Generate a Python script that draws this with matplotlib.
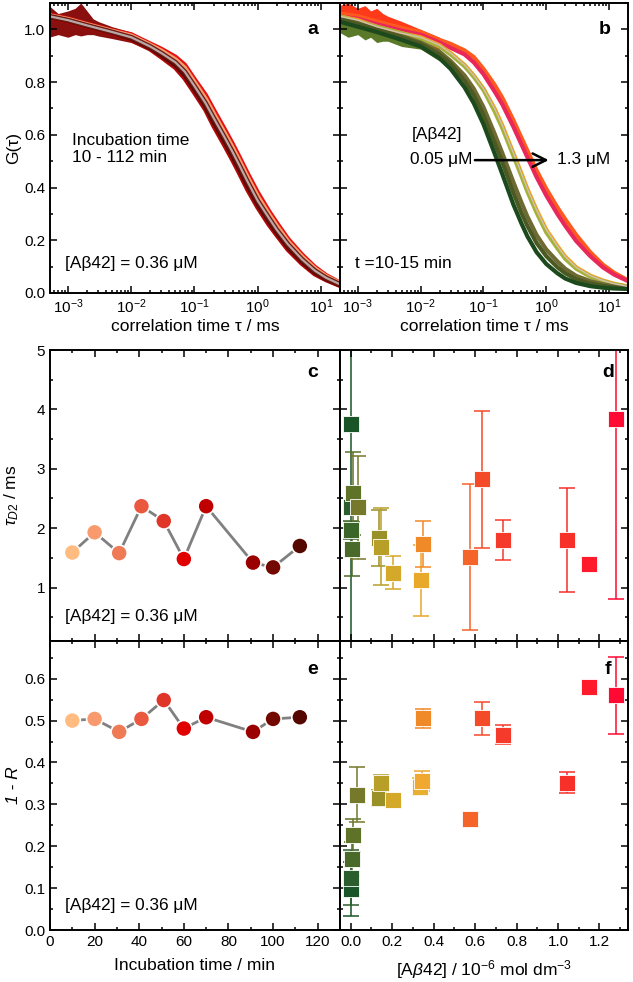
import matplotlib
matplotlib.use('Agg')
import matplotlib.pyplot as plt
from matplotlib.ticker import MultipleLocator, NullFormatter, LogLocator

plt.rcParams['font.family'] = ['Liberation Sans', 'DejaVu Sans']
plt.rcParams['mathtext.fontset'] = 'custom'
plt.rcParams['mathtext.rm'] = 'Liberation Sans'
plt.rcParams['mathtext.it'] = 'Liberation Sans:italic'
plt.rcParams['mathtext.bf'] = 'Liberation Sans:bold'

# ---------------- data ----------------
# correlation curves, G(tau) sampled on a common tau grid (ms)
tau = [5e-4, 1e-3, 2e-3, 5e-3, 1e-2, 2e-2, 3e-2, 5e-2, 0.07, 0.1, 0.15, 0.2,
       0.3, 0.4, 0.5, 0.7, 1, 1.5, 2, 3, 5, 8, 12, 20]

# panel a : 0.36 uM, incubation 10-112 min (band of curves + fit)
a_fast = [1.045, 1.03, 1.01, 0.985, 0.96, 0.925, 0.895, 0.855, 0.815, 0.76, 0.695, 0.635,
          0.56, 0.505, 0.46, 0.39, 0.325, 0.26, 0.22, 0.165, 0.112, 0.072, 0.05, 0.028]
a_midfast = [1.048, 1.033, 1.013, 0.988, 0.965, 0.93, 0.903, 0.865, 0.828, 0.773, 0.708, 0.65,
             0.575, 0.52, 0.475, 0.405, 0.338, 0.273, 0.23, 0.175, 0.12, 0.078, 0.054, 0.03]
a_mid = [1.05, 1.035, 1.015, 0.99, 0.97, 0.935, 0.91, 0.875, 0.84, 0.785, 0.72, 0.665,
         0.59, 0.535, 0.49, 0.42, 0.35, 0.285, 0.24, 0.185, 0.128, 0.085, 0.058, 0.033]
a_midslow = [1.052, 1.038, 1.018, 0.993, 0.975, 0.94, 0.918, 0.885, 0.853, 0.798, 0.735, 0.68,
             0.605, 0.55, 0.505, 0.435, 0.365, 0.298, 0.253, 0.195, 0.137, 0.092, 0.063, 0.036]
a_slow = [1.055, 1.04, 1.02, 0.995, 0.98, 0.945, 0.925, 0.895, 0.865, 0.81, 0.75, 0.695,
          0.62, 0.565, 0.52, 0.45, 0.38, 0.31, 0.265, 0.205, 0.145, 0.098, 0.067, 0.038]
a_curves = [a_slow, a_fast, a_midslow, a_midfast, a_mid]
a_colors = ['#e81010', '#b00808', '#f2a070', '#5a0a05', '#6e1a12']

# panel b : 0.05 -> 1.3 uM at t = 10-15 min
b_dkgreen = [1.03, 1.01, 0.99, 0.96, 0.935, 0.89, 0.85, 0.78, 0.72, 0.64, 0.53, 0.45,
             0.335, 0.265, 0.215, 0.155, 0.11, 0.075, 0.055, 0.038, 0.026, 0.02, 0.017, 0.015]
b_dkolive = [1.04, 1.02, 1.0, 0.97, 0.945, 0.905, 0.87, 0.805, 0.75, 0.675, 0.57, 0.495,
             0.38, 0.305, 0.255, 0.19, 0.14, 0.098, 0.075, 0.052, 0.036, 0.027, 0.022, 0.018]
b_olive = [1.04, 1.025, 1.0, 0.975, 0.95, 0.915, 0.88, 0.825, 0.775, 0.705, 0.605, 0.53,
           0.42, 0.345, 0.29, 0.22, 0.165, 0.12, 0.092, 0.065, 0.045, 0.033, 0.026, 0.02]
b_ygreen = [1.05, 1.03, 1.01, 0.985, 0.965, 0.935, 0.905, 0.86, 0.82, 0.77, 0.69, 0.625,
            0.52, 0.445, 0.385, 0.305, 0.23, 0.17, 0.13, 0.092, 0.062, 0.044, 0.033, 0.024]
b_orange = [1.05, 1.035, 1.01, 0.985, 0.97, 0.94, 0.91, 0.865, 0.825, 0.775, 0.70, 0.635,
            0.53, 0.455, 0.395, 0.315, 0.24, 0.178, 0.138, 0.097, 0.066, 0.047, 0.035, 0.025]
b_crimson = [1.05, 1.04, 1.02, 0.995, 0.98, 0.95, 0.93, 0.905, 0.875, 0.83, 0.765, 0.715,
             0.63, 0.565, 0.515, 0.44, 0.37, 0.30, 0.255, 0.197, 0.14, 0.097, 0.07, 0.045]
b_ored = [1.06, 1.05, 1.03, 1.005, 0.99, 0.96, 0.945, 0.92, 0.895, 0.85, 0.79, 0.74,
          0.655, 0.59, 0.54, 0.465, 0.395, 0.325, 0.28, 0.22, 0.155, 0.107, 0.077, 0.048]
b_curves = [b_ored, b_crimson, b_orange, b_ygreen, b_olive, b_dkolive, b_dkgreen]
b_colors = ['#ff5a1e', '#e8285a', '#f5a020', '#a5b23a', '#6e6a32', '#4b5a22', '#1d4a1d']

# noisy start of the measured curves
tau_noise = [5e-4, 7e-4, 1e-3, 1.3e-3, 1.6e-3, 2e-3, 2.5e-3, 3e-3, 5e-3, 1e-2, 2e-2]
a_noise_hi = [1.09, 1.06, 1.07, 1.08, 1.10, 1.07, 1.04, 1.03, 1.01, 0.99, 0.95]
a_noise_lo = [0.97, 0.98, 0.97, 0.98, 0.975, 0.98, 0.98, 0.975, 0.965, 0.95, 0.92]
b_noise_hi = [1.09, 1.10, 1.08, 1.09, 1.07, 1.08, 1.06, 1.05, 1.03, 1.0, 0.97]
b_noise_mid = [1.04, 1.03, 1.03, 1.02, 1.02, 1.01, 1.0, 1.0, 0.985, 0.96, 0.92]
b_noise_lo = [0.99, 0.97, 0.98, 0.96, 0.97, 0.95, 0.955, 0.955, 0.935, 0.925, 0.88]

# panels c, e : incubation time series at 0.36 uM
t_inc = [10, 20, 31, 41, 51, 60, 70, 91, 100, 112]
tauD2 = [1.59, 1.93, 1.58, 2.37, 2.12, 1.48, 2.37, 1.42, 1.34, 1.70]
one_minus_R = [0.500, 0.504, 0.473, 0.504, 0.549, 0.481, 0.508, 0.473, 0.504, 0.508]
t_colors = ['#ffbb80', '#f89a6e', '#ef7a56', '#ea5840', '#e0362a', '#e00000', '#c00000', '#9a0000', '#720800', '#550800']

# panel d : tau_D2 vs concentration
d_x = [0.0, 0.0, 0.0, 0.008, 0.013, 0.037, 0.138, 0.145, 0.206, 0.338, 0.351, 0.576, 0.635, 0.733, 1.042, 1.152, 1.28]
d_y = [3.75, 2.35, 1.97, 1.65, 2.585, 2.35, 1.83, 1.69, 1.25, 1.12, 1.73, 1.52, 2.82, 1.80, 1.80, 1.39, 3.84]
d_err = [5.0, 0.0, 0.15, 0.45, 0.70, 0.87, 0.47, 0.65, 0.28, 0.60, 0.39, 1.23, 1.15, 0.33, 0.88, 0.0, 3.04]
d_col = ['#1a5528', '#2b5e2c', '#3a662a', '#4a6a2a', '#5e7228', '#76782a', '#9a9028', '#b8a028',
         '#d4a828', '#e8a82a', '#f08a28', '#f56428', '#f54a28', '#f53a2c', '#f8302a', '#ff1a2c', '#ff0a32']

# panel f : 1 - R vs concentration
f_x = [0.0, 0.0, 0.005, 0.013, 0.029, 0.138, 0.145, 0.206, 0.335, 0.344, 0.351, 0.576, 0.635, 0.733, 1.042, 1.152, 1.28]
f_y = [0.098, 0.125, 0.170, 0.226, 0.323, 0.315, 0.351, 0.310, 0.342, 0.356, 0.505, 0.265, 0.505, 0.466, 0.352, 0.580, 0.560]
f_err = [0.065, 0.066, 0.04, 0.04, 0.065, 0.02, 0.02, 0.005, 0.02, 0.023, 0.022, 0.0, 0.04, 0.023, 0.025, 0.0, 0.092]
f_col = ['#1a5528', '#2b5e2c', '#4a6a2a', '#5e7228', '#76782a', '#9a9028', '#b8a028', '#d4a828',
         '#e8b030', '#f0a830', '#f08a28', '#f56428', '#f54a28', '#f53a2c', '#f8302a', '#ff1a2c', '#ff0a32']

# ---------------- figure ----------------
W, H = 633, 982
fig = plt.figure(figsize=(W / 100, H / 100), dpi=100)


def box(l, t, r, b):
    return [l / W, (H - b) / H, (r - l) / W, (b - t) / H]


ax_a = fig.add_axes(box(50, 3, 340, 293))
ax_b = fig.add_axes(box(340, 3, 628, 293))
ax_c = fig.add_axes(box(50, 350, 340, 641))
ax_d = fig.add_axes(box(340, 350, 628, 641))
ax_e = fig.add_axes(box(50, 641, 340, 930))
ax_f = fig.add_axes(box(340, 641, 628, 930))


def style(ax):
    ax.tick_params(which='both', direction='in', top=True, right=True, width=1.1, labelsize=11)
    ax.tick_params(which='major', length=5)
    ax.tick_params(which='minor', length=2.5)
    for s in ax.spines.values():
        s.set_linewidth(1.4)


txt = dict(fontsize=12.4)
lbl = dict(fontsize=14, fontweight='bold', ha='center', va='center')
axfs = 12.5

# ---- a ----
ax = ax_a
ax.fill_between(tau_noise, a_noise_lo, a_noise_hi, color='#8a1010', lw=0)
for g, c in zip(a_curves, a_colors):
    ax.plot(tau, g, color=c, lw=3.5)
ax.plot(tau, a_mid, color='#b8a8a8', lw=1.6)
ax.text(0.076, 0.497, 'Incubation time\n10 - 112 min', transform=ax.transAxes, va='center', linespacing=1.2, **txt)
ax.text(0.052, 0.103, '[A\u03b242] = 0.36 \u03bcM', transform=ax.transAxes, va='center', **txt)
ax.text(0.905, 0.907, 'a', transform=ax.transAxes, **lbl)
ax.set_ylabel('G(\u03c4)', fontsize=axfs)
ax.yaxis.set_label_coords(-0.10, 0.5)

# ---- b ----
ax = ax_b
ax.fill_between(tau_noise, b_noise_lo, b_noise_mid, color='#5a7a2a', lw=0)
ax.fill_between(tau_noise, b_noise_mid, b_noise_hi, color='#ff3a1a', lw=0)
for g, c in zip(b_curves, b_colors):
    ax.plot(tau, g, color=c, lw=3)
ax.plot(tau, b_orange, color='#d8c0b0', lw=1.0)
ax.annotate('', xy=(1.21, 0.504), xytext=(0.066, 0.504),
            arrowprops=dict(arrowstyle='->', lw=1.8, color='black', mutation_scale=24))
ax.text(0.337, 0.545, '[A\u03b242]', transform=ax.transAxes, ha='center', va='center', **txt)
ax.text(0.458, 0.459, '0.05 \u03bcM', transform=ax.transAxes, ha='right', va='center', **txt)
ax.text(0.753, 0.459, '1.3 \u03bcM', transform=ax.transAxes, ha='left', va='center', **txt)
ax.text(0.052, 0.103, 't =10-15 min', transform=ax.transAxes, va='center', **txt)
ax.text(0.92, 0.907, 'b', transform=ax.transAxes, **lbl)
ax.tick_params(labelleft=False)

for ax in (ax_a, ax_b):
    style(ax)
    ax.set_xscale('log')
    ax.set_xlim(5.2e-4, 20)
    ax.set_ylim(0, 1.1)
    ax.xaxis.set_major_locator(LogLocator(base=10, numticks=10))
    ax.xaxis.set_minor_locator(LogLocator(base=10, subs=range(2, 10), numticks=20))
    ax.xaxis.set_minor_formatter(NullFormatter())
    ax.yaxis.set_major_locator(MultipleLocator(0.2))
    ax.yaxis.set_minor_locator(MultipleLocator(0.1))
    ax.set_xlabel('correlation time \u03c4 / ms', fontsize=axfs)
    ax.xaxis.set_label_coords(0.5, -0.09)

# ---- c and e ----
ax_c.plot(t_inc, tauD2, color='#808080', lw=2, zorder=1)
ax_c.scatter(t_inc, tauD2, s=135, c=t_colors, edgecolors='white', linewidths=1.2, zorder=2)
ax_e.plot(t_inc, one_minus_R, color='#808080', lw=2, zorder=1)
ax_e.scatter(t_inc, one_minus_R, s=135, c=t_colors, edgecolors='white', linewidths=1.2, zorder=2)

for ax in (ax_c, ax_e):
    style(ax)
    ax.set_xlim(0, 130)
    ax.xaxis.set_major_locator(MultipleLocator(20))
    ax.xaxis.set_minor_locator(MultipleLocator(10))
    ax.text(0.052, 0.085, '[A\u03b242] = 0.36 \u03bcM', transform=ax.transAxes, va='center', **txt)
ax_c.tick_params(labelbottom=False)
ax_c.set_ylim(0.1, 5)
ax_c.yaxis.set_major_locator(MultipleLocator(1))
ax_c.yaxis.set_minor_locator(MultipleLocator(0.5))
ax_c.set_ylabel(r'$\tau_{D2}$ / ms', fontsize=axfs)
ax_c.yaxis.set_label_coords(-0.10, 0.5)
ax_c.text(0.907, 0.924, 'c', transform=ax_c.transAxes, **lbl)

ax_e.set_ylim(0.0, 0.69)
ax_e.yaxis.set_major_locator(MultipleLocator(0.1))
ax_e.yaxis.set_minor_locator(MultipleLocator(0.05))
ax_e.set_ylabel('1 - R', fontsize=axfs, style='italic')
ax_e.yaxis.set_label_coords(-0.10, 0.5)
ax_e.set_xlabel('Incubation time / min', fontsize=axfs)
ax_e.xaxis.set_label_coords(0.5, -0.098)
ax_e.text(0.907, 0.90, 'e', transform=ax_e.transAxes, **lbl)

# ---- d and f ----
for x, y, e, c in zip(d_x, d_y, d_err, d_col):
    if e > 0:
        ax_d.errorbar(x, y, yerr=e, fmt='none', ecolor=c, elinewidth=1.3, capsize=6, capthick=1.3, alpha=0.85, zorder=1)
    ax_d.plot(x, y, 's', ms=11, color=c, mec='#ffffff', mew=0.6, zorder=2)
for x, y, e, c in zip(f_x, f_y, f_err, f_col):
    if e > 0:
        ax_f.errorbar(x, y, yerr=e, fmt='none', ecolor=c, elinewidth=1.3, capsize=6, capthick=1.3, alpha=0.85, zorder=1)
    ax_f.plot(x, y, 's', ms=11, color=c, mec='#ffffff', mew=0.6, zorder=2)

for ax in (ax_d, ax_f):
    style(ax)
    ax.set_xlim(-0.052, 1.338)
    ax.xaxis.set_major_locator(MultipleLocator(0.2))
    ax.xaxis.set_minor_locator(MultipleLocator(0.1))
    ax.tick_params(labelleft=False)
ax_d.set_ylim(0.1, 5)
ax_d.yaxis.set_major_locator(MultipleLocator(1))
ax_d.yaxis.set_minor_locator(MultipleLocator(0.5))
ax_d.tick_params(labelbottom=False)
ax_d.text(0.93, 0.924, 'd', transform=ax_d.transAxes, **lbl)

ax_f.set_ylim(0.0, 0.69)
ax_f.yaxis.set_major_locator(MultipleLocator(0.1))
ax_f.yaxis.set_minor_locator(MultipleLocator(0.05))
ax_f.set_xlabel(r'[A$\beta$42] / 10$^{-6}$ mol dm$^{-3}$', fontsize=axfs)
ax_f.xaxis.set_label_coords(0.5, -0.098)
ax_f.text(0.93, 0.90, 'f', transform=ax_f.transAxes, **lbl)

fig.savefig('out.png', dpi=100)
